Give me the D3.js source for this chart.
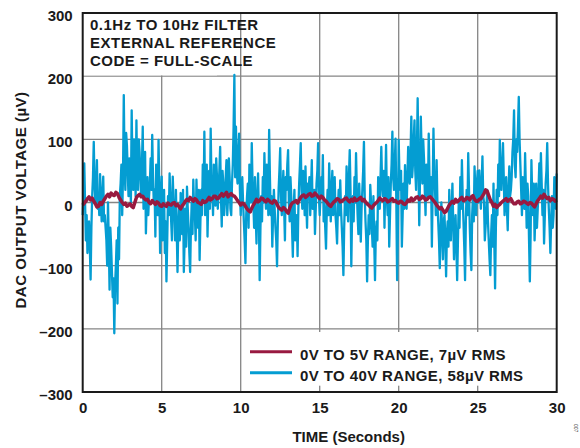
<!DOCTYPE html>
<html><head><meta charset="utf-8">
<script src="https://cdn.jsdelivr.net/npm/d3@7"></script>
<style>
html,body{margin:0;padding:0;background:#fff;}
svg{display:block;}
text{font-family:"Liberation Sans",Arial,sans-serif;font-weight:bold;fill:#1a1a1a;}
</style></head>
<body>
<svg id="chart" width="580" height="448"></svg>
<script>
// ---- data ----
const timeRange = [0, 30];
const voltRange = [-300, 300];
const xTicks = [0, 5, 10, 15, 20, 25, 30];
const xTickLabels = ["0", "5", "10", "15", "20", "25", "30"];
const yTicks = [-300, -200, -100, 0, 100, 200, 300];
const yTickLabels = ["\u2013300", "\u2013200", "\u2013100", "0", "100", "200", "300"];
const titleLines = ["0.1Hz TO 10Hz FILTER", "EXTERNAL REFERENCE", "CODE = FULL-SCALE"];
const seriesNames = ["0V TO 5V RANGE, 7\u00b5V RMS", "0V TO 40V RANGE, 58\u00b5V RMS"];
const xAxisTitle = "TIME (Seconds)";
const yAxisTitle = "DAC OUTPUT VOLTAGE (\u00b5V)";

// 0V to 40V range, sampled every 0.05 s (µV)
const blueStep = 0.05;
const blueValues = [
 -20, 20, 62, 0, -60, -20, -80, -50, -30, -70, -122, -40, 10, 40, 96, 30, 0, 20, 67, -10,
 10, -20, 45, 5, -30, 10, 41, -30, -20, -40, -60, -100, 0, -60, -138, -40, -70, -110, -150, -120,
 -207, -130, -100, -60, -160, -40, -90, 10, 30, 60, -20, 40, 170, 60, 20, 110, 90, 50, 10, 70,
 40, 0, 146, 50, 20, 100, 70, 10, 130, 40, 20, 100, 80, 40, 10, 60, 120, -10, 30, 80,
 -49, 0, 40, -20, 10, 30, 70, 20, 107, 40, 0, 20, -54, 60, 40, -20, 99, 20, -80, 0,
 41, -60, -20, 20, -80, -30, -125, -60, 10, -20, 46, 10, -30, -60, 41, 0, -20, -60, 20, -40,
 -110, -40, -10, -60, 15, -30, -50, 20, -110, -60, -10, -70, 25, -10, -40, -80, -110, -40, 0, -50,
 36, -10, -20, -60, 36, -10, -40, 20, -91, -30, 20, -20, 60, 0, 112, -20, 30, 60, -54, 10,
 50, -10, 117, 30, 20, -20, 60, 30, -5, 70, 40, -10, 20, 50, 88, 10, -38, 50, 30, -20,
 0, 40, 67, -20, 10, 70, 40, -10, -20, 30, 60, 120, 202, 40, 120, 50, 30, 80, 109, 20,
 -20, 20, 40, 0, -30, -60, -96, -20, 10, 30, -40, 60, 30, 0, 94, 30, 0, -40, 40, -20,
 -65, 10, 46, -20, -123, -40, 10, -30, 40, 0, 78, 20, -10, 60, 30, -20, 115, 40, -20, 10,
 -70, -20, 20, -10, -40, -60, -101, -30, 20, 50, 86, 10, -20, 20, 50, -10, -60, 40, 20, 60,
 83, 0, -30, 40, 10, -40, -86, -10, 20, -60, -40, -20, -85, -10, 30, 60, 94, 20, -10, 50,
 30, -20, 57, 0, -40, 30, 20, 40, -20, 20, 67, -10, 10, 20, -50, -10, 30, 50, 94, 10,
 -20, 10, 40, 10, 75, -30, 0, -40, -73, -10, 20, -20, 62, 10, -30, 20, 50, -20, 10, 40,
 -20, -40, -65, -10, 20, -20, 35, -10, -40, -70, -115, -40, 10, -20, 57, 10, -30, 40, 83, 20,
 -101, -20, 10, -30, 40, 0, 78, 20, -20, -50, 30, -10, -62, -10, 20, 50, 96, 10, -30, -60,
 -125, -60, -20, -50, 28, 0, -40, -70, 10, -60, -123, -50, -30, -60, 40, 20, -10, 40, 88, 30,
 10, 50, -40, 30, 91, 10, -20, 40, -70, -20, 30, 60, 112, 40, 20, 60, 101, 0, -123, -40,
 99, 40, 20, 50, -70, -20, 30, -10, 59, 20, -10, 40, 88, 40, 30, 80, 136, 40, 60, 100,
 130, 50, 20, 80, 165, 60, -36, 40, 136, 80, 30, 100, 70, 20, -20, 60, 40, 10, 109, 40,
 10, 40, -70, 20, 117, 40, 20, -20, 67, 0, -30, -60, -104, -40, 0, -50, -90, -30, -20, -60,
 -117, -50, -30, -70, 20, -40, -60, -10, 30, -30, -90, -50, -20, -70, -123, -60, 0, -40, 40, -10,
 67, 10, -30, -70, -123, -30, 20, -20, 78, 20, -40, -80, -107, -20, 10, -30, 57, 20, -20, 30,
 50, 0, 51, 20, -10, 30, 73, 10, 0, -60, -38, -10, 20, -30, -60, -90, -115, -50, -20, -70,
 30, -60, -136, -40, 20, -20, 60, 10, 99, 30, 20, 60, 94, 40, -20, 10, 40, -10, -44, 20,
 57, 10, 20, 40, 80, 100, 146, 60, 40, 100, 80, 120, 167, 100, 60, 20, -20, 40, 30, -10,
 78, 20, -40, 30, 10, -60, -125, -50, 67, 10, -20, 30, -60, -20, 30, -40, -10, 20, 62, 10,
 78, 30, -20, 20, -65, -20, 30, 50, 94, 30, -10, -40, -80, -30, 10, -40, -20, 40, 30, -10,
 46
];

// 0V to 5V range, sampled every 0.1 s (µV)
const redStep = 0.1;
const redValues = [
 -4, -1, 2, 6, 9, 4, 7, 2, -2, -7,
 -6, 0, -3, 2, 6, 10, 13, 9, 15, 12,
 11, 16, 14, 8, 4, 0, -3, -1, -6, -4,
 -2, -6, -8, 0, 8, 11, 13, 9, 10, 6,
 4, 5, 0, -2, 3, 0, -3, 1, -1, -5,
 -6, -2, -4, -6, -1, -3, -4, -1, 0, -5,
 -3, -7, -10, -5, -2, 2, 5, 3, 8, 5,
 2, 6, 4, 0, -1, -3, 3, 0, 1, 4,
 8, 4, 6, 10, 10, 6, 7, 11, 14, 10,
 13, 16, 9, 12, 14, 11, 10, 7, 3, 0,
 -4, -1, -2, -6, -10, -13, -15, -9, -4, 0,
 5, 1, 3, 7, 6, 3, 1, 5, 3, 0,
 -1, 3, 2, -3, -8, -10, -12, -8, -10, -14,
 -17, -9, -3, 0, 1, 3, -1, 4, 8, 11,
 12, 8, 10, 13, 14, 10, 11, 15, 12, 9,
 6, 10, 8, 4, 2, -1, -4, -6, -2, 1,
 3, 6, 5, 1, 2, 4, 6, 7, 3, 1,
 5, 2, 7, 3, 4, 6, 8, 3, 5, 1,
 -2, -4, -7, -9, -5, -2, 0, 3, 7, 4,
 3, 6, 5, 1, 2, 4, 6, 2, 3, 0,
 -1, 2, 1, -2, -3, 0, 4, 2, 7, 3,
 5, 8, 9, 5, 6, 10, 8, 4, 5, 8,
 9, 6, 3, 0, -4, -7, -10, -8, -12, -16,
 -14, -9, -4, -1, 2, -1, 5, 1, 3, 6,
 8, 3, 4, 8, 7, 4, 9, 11, 5, 2,
 2, 5, 6, 10, 14, 20, 18, 11, 4, 0,
 -6, -3, -8, -5, -3, 0, 2, 4, 6, 2,
 4, 6, 1, -2, -2, 1, 2, -2, -1, 2,
 1, -1, -3, 0, -1, -4, -7, -2, 3, 6,
 10, 7, 13, 9, 6, 8, 3, 6, 5, 2,
 4
];

// ---- drawing ----
const colors = {red: "#981a40", blue: "#049dd2", grid: "#858585", axis: "#1a1a1a"};
const svg = d3.select("#chart");
const plot = {left: 82.7, right: 556.7, top: 13, bottom: 392};
const x = d3.scaleLinear().domain(timeRange).range([plot.left, plot.right]);
const y = d3.scaleLinear().domain(voltRange).range([plot.bottom, plot.top]);

// grid
const grid = svg.append("g");
grid.selectAll("line.h").data(yTicks.slice(1, -1)).join("line")
  .attr("x1", plot.left).attr("x2", plot.right)
  .attr("y1", d => y(d)).attr("y2", d => y(d))
  .attr("stroke", colors.grid).attr("stroke-width", 1.3);
grid.selectAll("line.v").data(xTicks.slice(1, -1)).join("line")
  .attr("y1", plot.top).attr("y2", plot.bottom)
  .attr("x1", d => x(d)).attr("x2", d => x(d))
  .attr("stroke", colors.grid).attr("stroke-width", 1.3);

// white boxes behind title and legend (cover gridlines)
svg.append("rect").attr("x", plot.left).attr("y", plot.top)
  .attr("width", x(8.5) - plot.left).attr("height", y(200) - plot.top - 0.8).attr("fill", "#fff");
svg.append("rect").attr("x", x(10.2)).attr("y", y(-205))
  .attr("width", plot.right - x(10.2) - 1).attr("height", y(-290) - y(-205)).attr("fill", "#fff");

// series
const lineGen = step => d3.line().x((d, i) => x(i * step)).y(d => y(d));
svg.append("path").datum(blueValues).attr("d", lineGen(blueStep))
  .attr("fill", "none").attr("stroke", colors.blue).attr("stroke-width", 2.3)
  .attr("stroke-linejoin", "round");
svg.append("path").datum(redValues).attr("d", lineGen(redStep))
  .attr("fill", "none").attr("stroke", colors.red).attr("stroke-width", 3.5)
  .attr("stroke-linejoin", "round");

// frame
svg.append("rect").attr("x", plot.left).attr("y", plot.top)
  .attr("width", plot.right - plot.left).attr("height", plot.bottom - plot.top)
  .attr("fill", "none").attr("stroke", colors.axis).attr("stroke-width", 2);

// axes (labels via d3 axis)
const xAxis = d3.axisBottom(x).tickValues(xTicks).tickSize(0).tickPadding(0)
  .tickFormat((d, i) => xTickLabels[i]);
const gx = svg.append("g").attr("transform", `translate(0,${plot.bottom})`).call(xAxis);
gx.select(".domain").remove();
gx.selectAll("text").attr("dy", null).attr("y", 21).style("font-size", "15px")
  .style("font-family", '"Liberation Sans",Arial,sans-serif').style("font-weight", "bold").attr("fill", "#1a1a1a");

const yAxis = d3.axisLeft(y).tickValues(yTicks).tickSize(0).tickPadding(0)
  .tickFormat((d, i) => yTickLabels[i]);
const gy = svg.append("g").attr("transform", `translate(${plot.left - 10},0)`).call(yAxis);
gy.select(".domain").remove();
gy.selectAll("text").attr("dy", null).attr("y", 7.5).attr("x", 0).style("font-size", "15px")
  .style("font-family", '"Liberation Sans",Arial,sans-serif').style("font-weight", "bold").attr("fill", "#1a1a1a");

// title
svg.append("g").selectAll("text").data(titleLines).join("text")
  .attr("x", 90).attr("y", (d, i) => 30 + i * 17.9)
  .style("font-size", "15px").style("letter-spacing", "0.5px").text(d => d);

// legend
const legendRows = [{name: seriesNames[0], color: colors.red}, {name: seriesNames[1], color: colors.blue}];
const lg = svg.append("g");
lg.selectAll("line").data(legendRows).join("line")
  .attr("x1", 250).attr("x2", 292)
  .attr("y1", (d, i) => 351.7 + i * 21).attr("y2", (d, i) => 351.7 + i * 21)
  .attr("stroke", d => d.color).attr("stroke-width", 3);
lg.selectAll("text").data(legendRows).join("text")
  .attr("x", 300).attr("y", (d, i) => 360 + i * 21)
  .style("font-size", "15px").style("letter-spacing", "0.4px").text(d => d.name);

// axis titles
svg.append("text").attr("x", (plot.left + plot.right) / 2 + 29).attr("y", 441.5)
  .attr("text-anchor", "middle").style("font-size", "15px").text(xAxisTitle);
svg.append("text").attr("transform", "translate(26,200) rotate(-90)")
  .attr("text-anchor", "middle").style("font-size", "15px").style("letter-spacing", "0.5px").text(yAxisTitle);

// figure id
svg.append("text").attr("transform", "translate(574,424) rotate(90)")
  .style("font-size", "5px").style("font-weight", "normal").attr("fill", "#777").text("007");
</script>
</body></html>
